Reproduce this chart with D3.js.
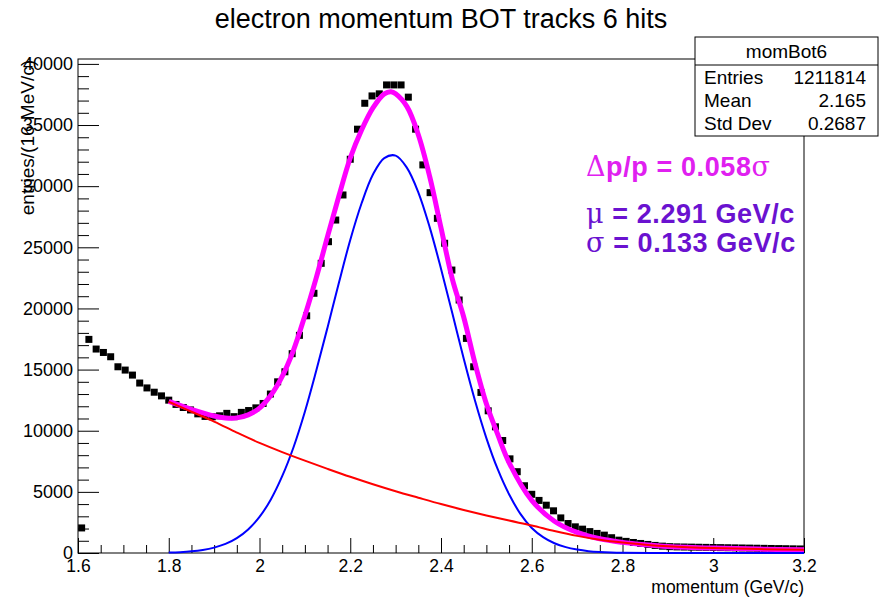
<!DOCTYPE html>
<html>
<head>
<meta charset="utf-8">
<script src="https://cdn.jsdelivr.net/npm/d3@7"></script>
<style>
	body { margin: 0; background: #fff; }
	text { font-family: "Liberation Sans", Arial, sans-serif; }
</style>
</head>
<body>
<div id="chart"></div>
<script>
// histogram: 100 bins of 16 MeV from 1.6 to 3.2 GeV/c
var binRange = [1.6, 3.2];
var counts = [
	2050, 17470, 16680, 16400, 16050, 15230, 14960, 14550, 13900, 13500,
	13150, 12850, 12500, 12150, 11900, 11700, 11380, 11170, 11140, 11220,
	11420, 11150, 11500, 11650, 11870, 12230, 13000, 14000, 14820, 16300,
	17800, 19400, 21240, 23690, 25460, 27230, 29280, 32200, 34660, 36780,
	37380, 37550, 38280, 38280, 38280, 37280, 34660, 31740, 29470, 27370,
	25330, 23140, 20690, 17550, 15230, 13130, 11630, 10320, 9200, 7700,
	6650, 5500, 4800, 4300, 3910, 3450, 2870, 2410, 2140, 1950,
	1750, 1600, 1460, 1250, 1050, 950, 860, 780, 700, 620,
	560, 520, 500, 490, 480, 470, 460, 450, 440, 430,
	420, 410, 400, 390, 380, 370, 360, 350, 340, 330
];

// fitted curves
var bgX = [1.80, 1.85, 1.90, 1.95, 2.00, 2.05, 2.10, 2.15, 2.20, 2.25, 2.30, 2.35, 2.40, 2.45, 2.50, 2.55, 2.60, 2.65, 2.70, 2.75, 2.80, 2.85, 2.90, 3.00, 3.10, 3.20];
var bgY = [12370, 11550, 10750, 9850, 9000, 8250, 7550, 6880, 6230, 5620, 5050, 4520, 4000, 3520, 3070, 2650, 2250, 1800, 1400, 1080, 850, 680, 550, 400, 320, 260];

var sigX = [1.800, 1.825, 1.850, 1.875, 1.900, 1.925, 1.950, 1.975, 2.000, 2.025,
	2.050, 2.075, 2.100, 2.125, 2.150, 2.175, 2.200, 2.225, 2.250, 2.275,
	2.300, 2.325, 2.350, 2.375, 2.400, 2.425, 2.450, 2.475, 2.500, 2.525,
	2.550, 2.575, 2.600, 2.625, 2.650, 2.675, 2.700, 2.725, 2.750, 2.775,
	2.800, 2.900, 3.000, 3.200];
var sigY = [35, 70, 135, 250, 440, 740, 1220, 1930, 2950, 4380,
	6280, 8650, 11550, 14900, 18450, 22100, 25600, 28600, 30950, 32300,
	32500, 31500, 29500, 26650, 23250, 19600, 15900, 12450, 9400, 6850,
	4800, 3200, 2050, 1300, 800, 480, 280, 150, 80, 40,
	20, 5, 0, 0];

var fitX = [1.80, 1.85, 1.90, 1.925, 1.95, 1.975, 2.00, 2.025, 2.05, 2.075,
	2.10, 2.125, 2.15, 2.175, 2.20, 2.225, 2.25, 2.275, 2.29, 2.30,
	2.325, 2.35, 2.375, 2.40, 2.425, 2.45, 2.475, 2.50, 2.525, 2.55,
	2.60, 2.65, 2.70, 2.75, 2.80, 2.85, 2.90, 3.00, 3.10, 3.20];
var fitY = [12400, 11750, 11200, 11050, 11050, 11300, 11850, 12900, 14450, 16600,
	19400, 22500, 25900, 29200, 32300, 34600, 36400, 37550, 37720, 37550,
	36500, 34200, 30800, 26600, 22400, 19300, 15500, 12200, 9700, 7400,
	4300, 2600, 1680, 1160, 870, 680, 540, 400, 320, 260];

var yTicks = [0, 5000, 10000, 15000, 20000, 25000, 30000, 35000, 40000];
var xTicks = [1.6, 1.8, 2, 2.2, 2.4, 2.6, 2.8, 3, 3.2];

var statsRows = [["Entries", "1211814"], ["Mean", "2.165"], ["Std Dev", "0.2687"]];

var svgWidth = 885;
var svgHeight = 600;

var margin = {
	top: 59,
	bottom: 47,
	right: 81,
	left: 78
};

var width = svgWidth - margin.left - margin.right;
var height = svgHeight - margin.top - margin.bottom;

var svg = d3.select("#chart")
	.append("svg")
	.attr("width", svgWidth)
	.attr("height", svgHeight);

var chartGroup = svg.append("g")
	.attr("transform", `translate(${margin.left}, ${margin.top})`);

var x = d3.scaleLinear().domain(binRange).range([0, width]);
var y = d3.scaleLinear().domain([0, 40400]).range([height, 0]);

var binW = (binRange[1] - binRange[0]) / counts.length;

// axes with ticks pointing into the frame
var minorY = d3.range(0, 40001, 1000).filter(v => v % 5000 !== 0);
var minorX = d3.range(0, 33).map(i => 1.6 + i * 0.05).filter((v, i) => i % 4 !== 0);

chartGroup.append("g")
	.attr("class", "axis")
	.call(d3.axisLeft(y).tickValues(minorY).tickSize(-11).tickFormat(""));
chartGroup.append("g")
	.attr("class", "axis")
	.call(d3.axisLeft(y).tickValues(yTicks).tickSize(-21).tickPadding(5).tickFormat(d3.format("d")));

chartGroup.append("g")
	.attr("class", "axis")
	.attr("transform", `translate(0, ${height})`)
	.call(d3.axisBottom(x).tickValues(minorX).tickSize(-8).tickFormat(""));
chartGroup.append("g")
	.attr("class", "axis x-major")
	.attr("transform", `translate(0, ${height})`)
	.call(d3.axisBottom(x).tickValues(xTicks).tickSize(-15).tickPadding(7).tickFormat(d3.format("")));

chartGroup.selectAll(".axis .domain").remove();
chartGroup.selectAll(".axis text")
	.attr("font-family", "Liberation Sans, Arial, sans-serif")
	.attr("font-size", 18)
	.attr("fill", "#000");
chartGroup.selectAll(".x-major text").attr("font-size", 17.5);
chartGroup.selectAll(".axis line").attr("stroke", "#000");

chartGroup.append("rect")
	.attr("width", width)
	.attr("height", height)
	.attr("fill", "none")
	.attr("stroke", "#000")
	.attr("stroke-width", 1);

// data markers
chartGroup.selectAll("rect.pt")
	.data(counts)
	.enter()
	.append("rect")
	.attr("class", "pt")
	.attr("x", (d, i) => x(binRange[0] + (i + 0.5) * binW) - 3.5)
	.attr("y", d => y(d) - 3.5)
	.attr("width", 7)
	.attr("height", 7)
	.attr("fill", "#000");

var line = d3.line()
	.x(d => x(d[0]))
	.y(d => y(d[1]))
	.curve(d3.curveCatmullRom.alpha(0.5));

chartGroup.append("path")
	.datum(d3.zip(fitX, fitY))
	.attr("d", line)
	.attr("fill", "none")
	.attr("stroke", "#ff00ff")
	.attr("stroke-width", 5);

chartGroup.append("path")
	.datum(d3.zip(sigX, sigY))
	.attr("d", line)
	.attr("fill", "none")
	.attr("stroke", "#0000ff")
	.attr("stroke-width", 2);

chartGroup.append("path")
	.datum(d3.zip(bgX, bgY))
	.attr("d", line)
	.attr("fill", "none")
	.attr("stroke", "#ff0000")
	.attr("stroke-width", 2);

// titles
svg.append("text")
	.attr("x", 441)
	.attr("y", 28)
	.attr("text-anchor", "middle")
	.attr("font-size", 27)
	.text("electron momentum BOT tracks 6 hits");

svg.append("text")
	.attr("transform", "translate(34, 60) rotate(-90)")
	.attr("text-anchor", "end")
	.attr("font-size", 19)
	.text("entries/(16 MeV/c)");

svg.append("text")
	.attr("x", margin.left + width)
	.attr("y", 593)
	.attr("text-anchor", "end")
	.attr("font-size", 17.5)
	.text("momentum (GeV/c)");

// fit result labels
var labels = svg.append("g")
	.attr("font-weight", "bold")
	.attr("font-size", 27)
	.attr("letter-spacing", 0.6);

var l1 = labels.append("text").attr("x", 586).attr("y", 176).attr("fill", "#e020f0");
l1.append("tspan").attr("font-family", "DejaVu Serif, serif").attr("font-weight", "normal").text("\u0394");
l1.append("tspan").text("p/p = 0.058");
l1.append("tspan").attr("font-family", "DejaVu Serif, serif").attr("font-weight", "normal").text("\u03c3");

var l2 = labels.append("text").attr("x", 586).attr("y", 223).attr("fill", "#6a12d0");
l2.append("tspan").attr("font-family", "DejaVu Serif, serif").attr("font-weight", "normal").text("\u03bc");
l2.append("tspan").text(" = 2.291 GeV/c");

var l3 = labels.append("text").attr("x", 586).attr("y", 252).attr("fill", "#6a12d0");
l3.append("tspan").attr("font-family", "DejaVu Serif, serif").attr("font-weight", "normal").text("\u03c3");
l3.append("tspan").text(" = 0.133 GeV/c");

// stats box
var stats = svg.append("g").attr("transform", "translate(695, 37)");
stats.append("rect")
	.attr("width", 183)
	.attr("height", 99)
	.attr("fill", "#fff")
	.attr("stroke", "#000");
stats.append("line")
	.attr("x1", 0).attr("x2", 183)
	.attr("y1", 28).attr("y2", 28)
	.attr("stroke", "#000");
stats.append("text")
	.attr("x", 91.5)
	.attr("y", 21)
	.attr("text-anchor", "middle")
	.attr("font-size", 19)
	.text("momBot6");
statsRows.forEach(function(r, i) {
	stats.append("text")
		.attr("x", 9)
		.attr("y", 47 + i * 23)
		.attr("font-size", 19)
		.text(r[0]);
	stats.append("text")
		.attr("x", 171)
		.attr("y", 47 + i * 23)
		.attr("text-anchor", "end")
		.attr("font-size", 19)
		.text(r[1]);
});
</script>
</body>
</html>
